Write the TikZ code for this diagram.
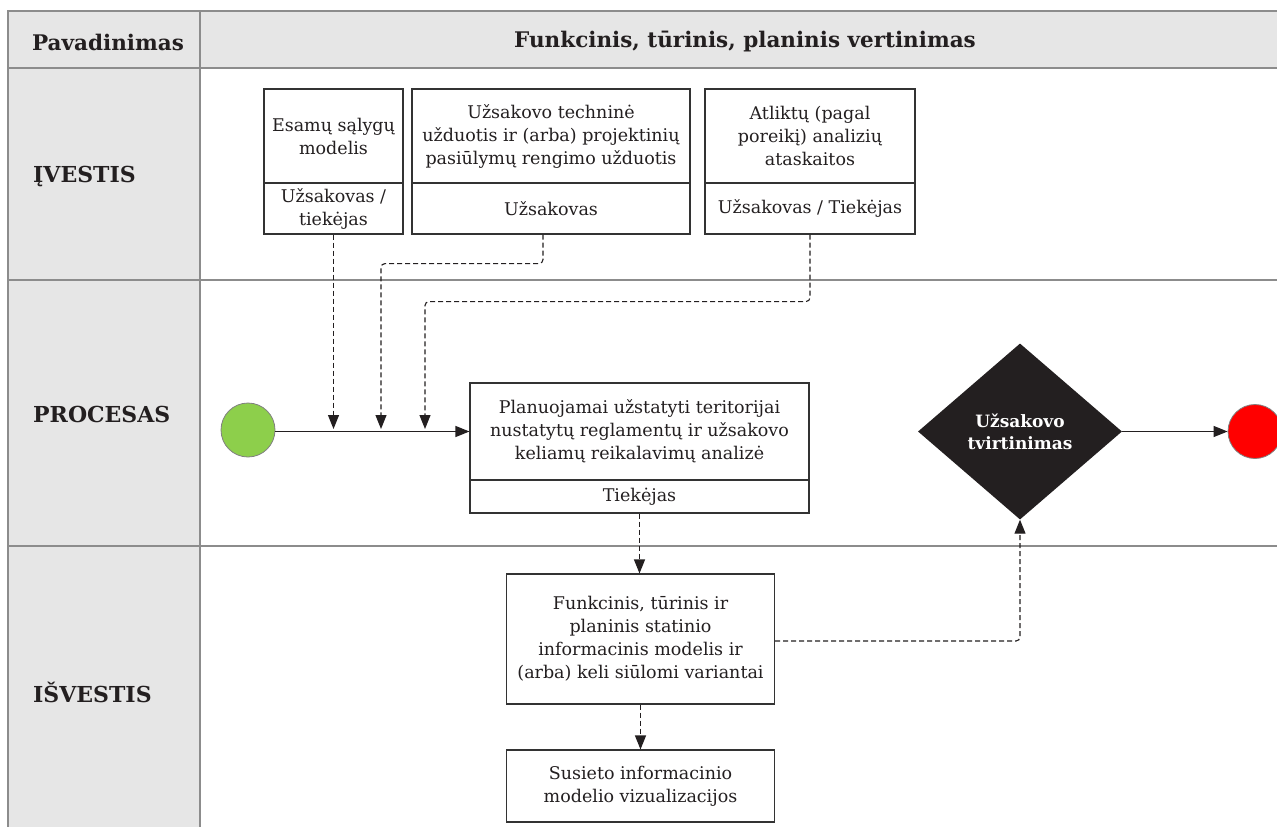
\documentclass[tikz,border=0pt]{standalone}
\usepackage{fontspec}
\setmainfont{DejaVu Serif}
\usetikzlibrary{arrows.meta,shapes.geometric}
\definecolor{gridline}{HTML}{8C8C8C}
\definecolor{headfill}{HTML}{E6E6E6}
\definecolor{boxline}{HTML}{333333}
\definecolor{startgreen}{HTML}{8DCF4B}
\definecolor{endred}{HTML}{FF0000}
\definecolor{gatefill}{HTML}{231F20}
\definecolor{ink}{HTML}{231F20}
\tikzset{
  grid/.style={draw=gridline, line width=1.4pt},
  head/.style={font=\fontsize{21.5}{25}\selectfont\bfseries, text=ink},
  rowlabel/.style={font=\fontsize{22}{26}\selectfont\bfseries, text=ink, anchor=west, inner sep=0},
  cell/.style={draw=boxline, line width=1.1pt, rectangle, inner sep=2pt, align=center,
    font=\fontsize{17.5}{23}\selectfont, text=ink},
  flow/.style={draw=ink, line width=1.1pt, -{Triangle[length=14pt,width=11pt]}},
  dflow/.style={flow, dash pattern=on 5pt off 3pt, rounded corners=4pt},
  event/.style={circle, draw=gray, line width=0.8pt, minimum size=54pt, inner sep=0},
  gate/.style={diamond, fill=gatefill, minimum width=204pt, minimum height=176pt, inner sep=0,
    align=center, text=white, font=\fontsize{17}{22}\selectfont\bfseries}
}
\begin{document}
\begin{tikzpicture}[x=1pt,y=-1pt]
\clip (0,0) rectangle (1277,827);
\fill[white] (0,0) rectangle (1277,827);
% table frame and lanes
\fill[headfill] (8,11) rectangle (1290,68);
\fill[headfill] (8,68) rectangle (200,840);
\draw[grid] (8,840) -- (8,11) -- (1290,11);
\draw[grid] (8,68) -- (1290,68);
\draw[grid] (8,280) -- (1290,280);
\draw[grid] (8,546) -- (1290,546);
\draw[grid] (200,11) -- (200,840);
\node[head] (hname) at (108,42) {Pavadinimas};
\node[head] (hfun) at (745,42) {Funkcinis, tūrinis, planinis vertinimas};
\node[rowlabel] (lin) at (33,176) {ĮVESTIS};
\node[rowlabel] (lproc) at (33,414) {PROCESAS};
\node[rowlabel] (lout) at (33,692) {IŠVESTIS};
% inputs
\node[cell, minimum width=139pt, minimum height=94pt] (b1t) at (333.5,136) {Esamų sąlygų\\modelis};
\node[cell, minimum width=139pt, minimum height=51pt] (b1b) at (333.5,208.5) {Užsakovas /\\tiekėjas};
\node[cell, minimum width=278pt, minimum height=94pt] (b2t) at (551,136) {Užsakovo techninė\\užduotis ir (arba) projektinių\\pasiūlymų rengimo užduotis};
\node[cell, minimum width=278pt, minimum height=51pt] (b2b) at (551,208.5) {Užsakovas};
\node[cell, minimum width=210pt, minimum height=94pt] (b3t) at (810,136) {Atliktų (pagal\\poreikį) analizių\\ataskaitos};
\node[cell, minimum width=210pt, minimum height=51pt] (b3b) at (810,208.5) {Užsakovas / Tiekėjas};
% process
\node[event, fill=startgreen] (start) at (248,430) {};
\node[cell, minimum width=339pt, minimum height=97pt] (pt) at (639.5,431.5) {Planuojamai užstatyti teritorijai\\nustatytų reglamentų ir užsakovo\\keliamų reikalavimų analizė};
\node[cell, minimum width=339pt, minimum height=33pt] (pb) at (639.5,496.5) {Tiekėjas};
\node[gate] (gate) at (1020,431.5) {Užsakovo\\tvirtinimas};
\node[event, fill=endred] (stop) at (1255,431.5) {};
% outputs
\node[cell, minimum width=268pt, minimum height=130pt] (o1) at (640.5,639) {Funkcinis, tūrinis ir\\planinis statinio\\informacinis modelis ir\\(arba) keli siūlomi variantai};
\node[cell, minimum width=268pt, minimum height=72pt] (o2) at (640.5,786) {Susieto informacinio\\modelio vizualizacijos};
% connectors
\coordinate (feed) at (0,429);
\draw[flow] (start.east |- pt.west) -- (pt.west);
\draw[dflow] (b1b.south) -- (b1b.south |- feed);
\draw[dflow] ([xshift=-8pt]b2b.south) -- ++(0,29) -| (381,429);
\draw[dflow] (b3b.south) -- ++(0,67) -| (425,429);
\draw[flow] (gate.east) -- (stop.west);
\draw[dflow] (pb.south) -- (pb.south |- o1.north);
\draw[dflow] (o1.south) -- (o2.north);
\draw[dflow] ([yshift=-2pt]o1.east) -| (gate.south);
\end{tikzpicture}
\end{document}
